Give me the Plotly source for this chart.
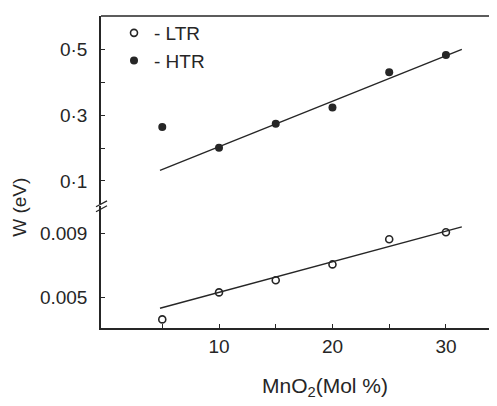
import plotly.graph_objects as go

# Data
mno2 = [5, 10, 15, 20, 25, 30]
w_ltr = [0.0036, 0.0053, 0.00606, 0.00706, 0.00864, 0.00908]
w_htr = [0.264, 0.201, 0.274, 0.324, 0.431, 0.484]
fit_x = [4.8, 31.4]
fit_ltr = [0.0043, 0.00942]
fit_htr = [0.132, 0.501]

upper_ticks = [0.1, 0.3, 0.5]
upper_text = ["0·1", "0·3", "0·5"]
upper_minor = [0.2, 0.4]
lower_ticks = [0.005, 0.009]
lower_text = ["0.005", "0.009"]
x_ticks = [10, 20, 30]
x_text = ["10", "20", "30"]
x_minor = [5, 15, 25]

INK = "#262626"
FONT = "Liberation Sans"
OFF = 8  # page body margin
W, H = 497, 406
PL, PR, PT, PB = 101, 497, 14, 328
L, T = PL - OFF, PT - OFF
R = (W + OFF) - PR
B = H - (PB - OFF)
pw, ph = PR - PL, PB - PT

def px(x):
    return (x - PL) / pw

def py(y):
    return (PB - y) / ph

fig = go.Figure()
fig.add_trace(go.Scatter(x=fit_x, y=fit_ltr, mode="lines", line=dict(color=INK, width=1.4),
                         showlegend=False, xaxis="x", yaxis="y"))
fig.add_trace(go.Scatter(x=mno2, y=w_ltr, mode="markers", name="- LTR",
                         marker=dict(symbol="circle-open", size=7, color=INK, line=dict(width=1.6, color=INK)),
                         xaxis="x", yaxis="y"))
fig.add_trace(go.Scatter(x=fit_x, y=fit_htr, mode="lines", line=dict(color=INK, width=1.4),
                         showlegend=False, xaxis="x", yaxis="y2"))
fig.add_trace(go.Scatter(x=mno2, y=w_htr, mode="markers", name="- HTR",
                         marker=dict(symbol="circle", size=8, color=INK),
                         xaxis="x", yaxis="y2"))

lower_top = py(205)
upper_bot = py(203)

common = dict(ticks="inside", ticklen=4, tickcolor=INK, showgrid=False, zeroline=False,
              showline=True, linecolor=INK, linewidth=1.5, tickfont=dict(size=19, color=INK))

fig.update_layout(
    width=W, height=H,
    margin=dict(l=L, r=R, t=T, b=B),
    paper_bgcolor="white", plot_bgcolor="white",
    font=dict(family=FONT, size=19, color=INK),
    showlegend=True,
    legend=dict(x=px(114), y=py(12), xanchor="left", yanchor="top",
                bgcolor="rgba(0,0,0,0)", font=dict(size=19, color=INK),
                tracegroupgap=0, itemwidth=30, traceorder="normal"),
    xaxis=dict(range=[-0.4, 34.5], tickvals=x_ticks, ticktext=x_text, anchor="y",
               minor=dict(tickvals=x_minor, ticks="inside", ticklen=4, tickcolor=INK),
               ticklabelstandoff=0, **common),
    yaxis=dict(domain=[0, lower_top], range=[0.00306, 0.01075], tickvals=lower_ticks, ticktext=lower_text,
               ticklabelstandoff=8, **common),
    yaxis2=dict(domain=[upper_bot, 1], range=[0.03, 0.603], tickvals=upper_ticks, ticktext=upper_text,
                minor=dict(tickvals=upper_minor, ticks="inside", ticklen=4, tickcolor=INK),
                anchor="x", ticklabelstandoff=8, **common),
    annotations=[
        dict(text="MnO<sub>2</sub>(Mol %)", x=px(325), y=py(387), xref="paper", yref="paper",
             xanchor="center", yanchor="middle",
             showarrow=False, font=dict(size=21, color=INK)),
        dict(text="W (eV)", x=px(20), y=py(207), xref="paper", yref="paper", textangle=-90,
             xanchor="center", yanchor="middle",
             showarrow=False, font=dict(size=19, color=INK)),
    ],
    shapes=[
        dict(type="line", xref="paper", yref="paper", x0=0, x1=1, y0=1, y1=1,
             line=dict(color=INK, width=1.5)),
        dict(type="line", xref="paper", yref="paper", x0=px(96), x1=px(107), y0=py(211), y1=py(205),
             line=dict(color=INK, width=1.3)),
        dict(type="line", xref="paper", yref="paper", x0=px(96), x1=px(107), y0=py(206), y1=py(200),
             line=dict(color=INK, width=1.3)),
    ],
)

fig.write_html("out.html")
